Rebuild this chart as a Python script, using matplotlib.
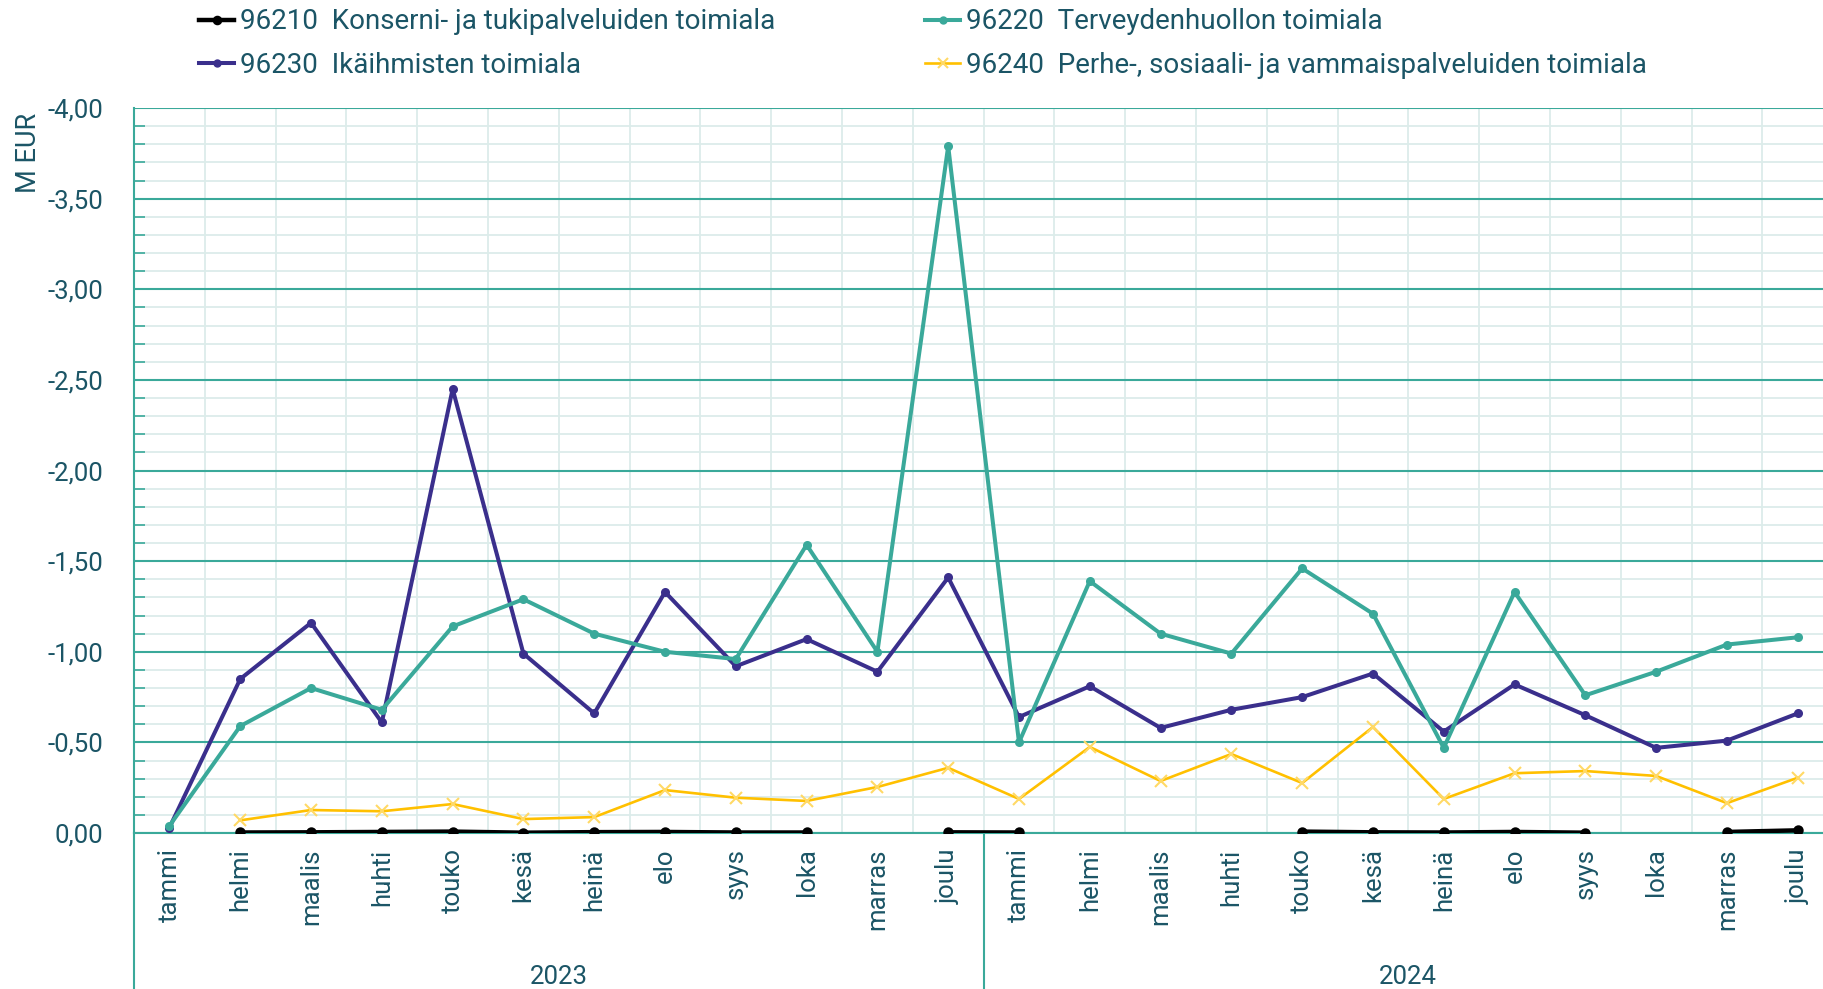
from typing import List

import matplotlib.pyplot as plt
from matplotlib.ticker import FuncFormatter, MultipleLocator
import numpy as np

TEXT_COLOR = "#1b5566"
GRID_COLOR = "#3aa99a"
MINOR_GRID_COLOR = "#dcecea"
FONT_SIZE = 18.5

plt.rcParams["font.family"] = ["Roboto", "DejaVu Sans"]

MONTHS = ["tammi", "helmi", "maalis", "huhti", "touko", "kesä",
          "heinä", "elo", "syys", "loka", "marras", "joulu"]
YEARS = ["2023", "2024"]
nan = np.nan

# monthly result per unit, M EUR (missing months left empty)
SERIES = {
    "96210  Konserni- ja tukipalveluiden toimiala": dict(
        values=[nan, -0.003, -0.004, -0.006, -0.008, -0.002, -0.005, -0.006, -0.003, -0.003, nan, -0.004,
                -0.003, nan, nan, nan, -0.008, -0.004, -0.003, -0.006, -0.002, nan, -0.006, -0.015],
        color="#000000", marker="o", lw=3.2, ms=6, mec="#000000"),
    "96230  Ikäihmisten toimiala": dict(
        values=[-0.03, -0.85, -1.16, -0.61, -2.45, -0.99, -0.66, -1.33, -0.92, -1.07, -0.89, -1.41,
                -0.64, -0.81, -0.58, -0.68, -0.75, -0.88, -0.56, -0.82, -0.65, -0.47, -0.51, -0.66],
        color="#3a2f8c", marker="o", lw=2.9, ms=5, mec="#3a2f8c"),
    "96220  Terveydenhuollon toimiala": dict(
        values=[-0.04, -0.59, -0.80, -0.68, -1.14, -1.29, -1.10, -1.00, -0.96, -1.59, -1.00, -3.79,
                -0.50, -1.39, -1.10, -0.99, -1.46, -1.21, -0.47, -1.33, -0.76, -0.89, -1.04, -1.08],
        color="#3aa99a", marker="o", lw=2.9, ms=5, mec="#3aa99a"),
    "96240  Perhe-, sosiaali- ja vammaispalveluiden toimiala": dict(
        values=[nan, -0.07, -0.127, -0.12, -0.16, -0.077, -0.088, -0.237, -0.195, -0.177, -0.254, -0.36,
                -0.188, -0.475, -0.287, -0.436, -0.276, -0.585, -0.188, -0.33, -0.342, -0.315, -0.165, -0.305],
        color="#ffc000", marker="x", lw=1.9, ms=8, mec="#ffd966"),
}


def format_eur(value, pos):
    if abs(value) < 1e-9:
        return "0,00"
    return f"{value:.2f}".replace(".", ",")


def plot_monthly_result(series: dict, months: List, years: List) -> None:
    """
    Plot the monthly result of each unit over two years.
    The y-axis is inverted so that the deficit (negative values) grows upwards.
    """
    labels = months * len(years)
    x = np.arange(len(labels))  # the label locations

    fig = plt.figure(figsize=(18.24, 9.89))
    ax = fig.add_axes([0.0735, 0.1577, 0.9315, 0.733])

    for name, s in series.items():
        ax.plot(x, s["values"], color=s["color"], lw=s["lw"], marker=s["marker"],
                ms=s["ms"], mec=s["mec"], mew=1.5, label=name, zorder=3)

    ax.set_xlim(-0.5, len(labels) - 0.5)
    ax.set_ylim(0, -4)  # deficit shown upwards

    # grid: light cells, teal lines every 0,50
    ax.yaxis.set_major_locator(MultipleLocator(0.5))
    ax.yaxis.set_minor_locator(MultipleLocator(0.1))
    ax.xaxis.set_minor_locator(MultipleLocator(0.5))
    ax.grid(True, which="minor", color=MINOR_GRID_COLOR, lw=1.3, zorder=0)
    ax.grid(True, axis="y", which="major", color=GRID_COLOR, lw=1.5, zorder=1)
    ax.set_axisbelow(True)

    ax.yaxis.set_major_formatter(FuncFormatter(format_eur))
    ax.tick_params(axis="y", which="major", length=0, pad=22, labelsize=FONT_SIZE, labelcolor=TEXT_COLOR)
    ax.tick_params(axis="y", which="minor", direction="in", length=8, color=GRID_COLOR, width=1.2)
    ax.set_xticks(x)
    ax.set_xticklabels(labels, rotation=90, fontsize=FONT_SIZE, color=TEXT_COLOR)
    ax.tick_params(axis="x", which="both", length=0, pad=11)

    for side in ["top", "right"]:
        ax.spines[side].set_visible(False)
    for side in ["left", "bottom"]:
        ax.spines[side].set_color(GRID_COLOR)
        ax.spines[side].set_linewidth(1.5)

    # year level of the category axis
    trans = ax.get_xaxis_transform()
    for i in range(len(years) + 1):
        pos = i * len(months) - 0.5
        ax.plot([pos, pos], [0, -0.3], color=GRID_COLOR, lw=1.5, transform=trans, clip_on=False)
    for i, year in enumerate(years):
        ax.text(i * len(months) + (len(months) - 1) / 2, -0.198, year, transform=trans,
                ha="center", va="center", fontsize=FONT_SIZE, color=TEXT_COLOR)

    fig.text(0.0155, 0.845, "M EUR", rotation=90, ha="center", va="center",
             fontsize=19.5, color=TEXT_COLOR)

    handles, names = ax.get_legend_handles_labels()
    fig.legend(handles, names, loc="upper left", bbox_to_anchor=(0.1085, 0.993), ncol=2,
               frameon=False, fontsize=20, labelcolor=TEXT_COLOR, handlelength=1.26,
               handletextpad=0.2, columnspacing=5.4, labelspacing=0.6, borderpad=0.05,
               borderaxespad=0, markerscale=0.9)

    fig.savefig("out.png", dpi=100)


if __name__ == "__main__":
    plot_monthly_result(SERIES, MONTHS, YEARS)
